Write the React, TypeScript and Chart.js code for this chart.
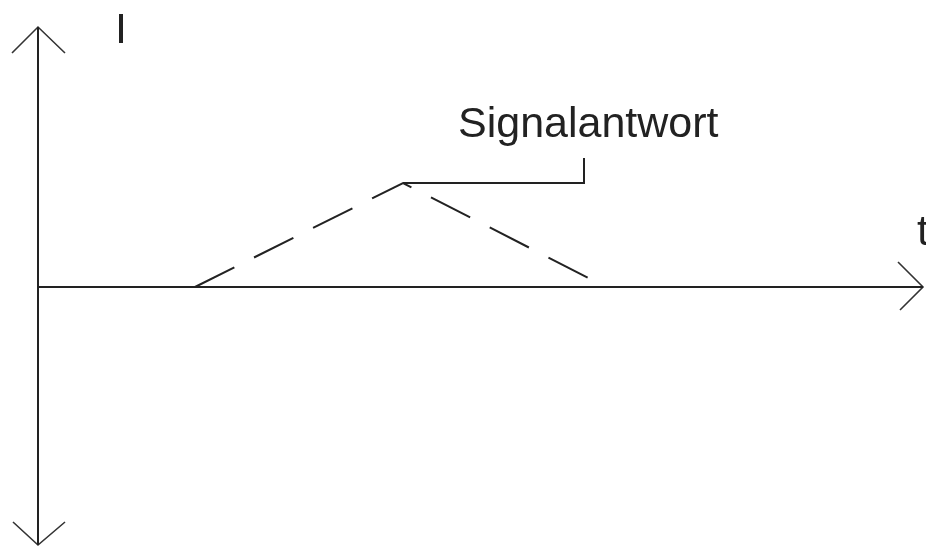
import React, { useEffect, useRef } from "react";
import { Chart, registerables } from "chart.js";

Chart.register(...registerables);

// Axis extents (t in arbitrary time units, I in arbitrary current units)
const T_MIN = -3.8;
const T_MAX = 88.8;
const I_MIN = -26.0;
const I_MAX = 28.7;

// Signal response (triangle, dashed)
const signalT = [15.7, 36.5, 56.8];
const signalI = [0, 10.4, 0];

// Leader line from peak to the label
const leaderT = [36.5, 54.6, 54.6];
const leaderI = [10.4, 10.4, 12.9];

// Axes
const tAxisT = [0, 88.5];
const tAxisI = [0, 0];
const iAxisT = [0, 0];
const iAxisI = [-25.8, 26.0];

// Arrow heads
const arrowUpT = [-2.6, 0, 2.7];
const arrowUpI = [23.4, 26.0, 23.4];
const arrowDownT = [-2.5, 0, 2.7];
const arrowDownI = [-23.5, -25.8, -23.5];
const arrowRightT = [86.0, 88.5, 86.2];
const arrowRightI = [2.5, 0, -2.3];

// Text labels
const labelTexts = ["I", "Signalantwort", "t"];
const labelT = [7.7, 42.0, 87.9];
const labelI = [24.4, 15.0, 4.2];

const INK = "#222222";

function pts(xs: number[], ys: number[]) {
  return xs.map((x, i) => ({ x, y: ys[i] }));
}

const labelPlugin = {
  id: "labels",
  afterDatasetsDraw(chart: any) {
    const { ctx, scales } = chart;
    ctx.save();
    ctx.fillStyle = INK;
    ctx.font = '43px "Liberation Sans", Arial, sans-serif';
    ctx.textAlign = "left";
    ctx.textBaseline = "alphabetic";
    labelTexts.forEach((txt, i) => {
      ctx.fillText(
        txt,
        scales.x.getPixelForValue(labelT[i]),
        scales.y.getPixelForValue(labelI[i])
      );
    });
    ctx.restore();
  },
};

export default function App() {
  const ref = useRef<HTMLCanvasElement | null>(null);

  useEffect(() => {
    if (!ref.current) return;
    const solid = (xs: number[], ys: number[], w: number, color = INK) => ({
      data: pts(xs, ys),
      showLine: true,
      borderColor: color,
      borderWidth: w,
      pointRadius: 0,
      fill: false,
      tension: 0,
      clip: false as any,
    });
    const chart = new Chart(ref.current, {
      type: "scatter",
      data: {
        datasets: [
          solid(tAxisT, tAxisI, 2),
          solid(iAxisT, iAxisI, 2),
          solid(arrowUpT, arrowUpI, 1.6, "#333333"),
          solid(arrowDownT, arrowDownI, 1.6, "#333333"),
          solid(arrowRightT, arrowRightI, 1.6, "#333333"),
          solid(leaderT, leaderI, 2),
          { ...solid(signalT, signalI, 2), borderDash: [44, 22] },
        ],
      },
      options: {
        animation: false,
        responsive: false,
        maintainAspectRatio: false,
        layout: { padding: 0 },
        plugins: {
          legend: { display: false },
          tooltip: { enabled: false },
          title: { display: false },
        },
        events: [],
        scales: {
          x: { type: "linear", min: T_MIN, max: T_MAX, display: false },
          y: { type: "linear", min: I_MIN, max: I_MAX, display: false },
        },
      },
      plugins: [labelPlugin],
    });
    return () => chart.destroy();
  }, []);

  return (
    <div
      style={{
        position: "fixed",
        left: 0,
        top: 0,
        width: 926,
        height: 547,
        background: "#ffffff",
      }}
    >
      <canvas ref={ref} width={926} height={547} style={{ display: "block" }} />
    </div>
  );
}
